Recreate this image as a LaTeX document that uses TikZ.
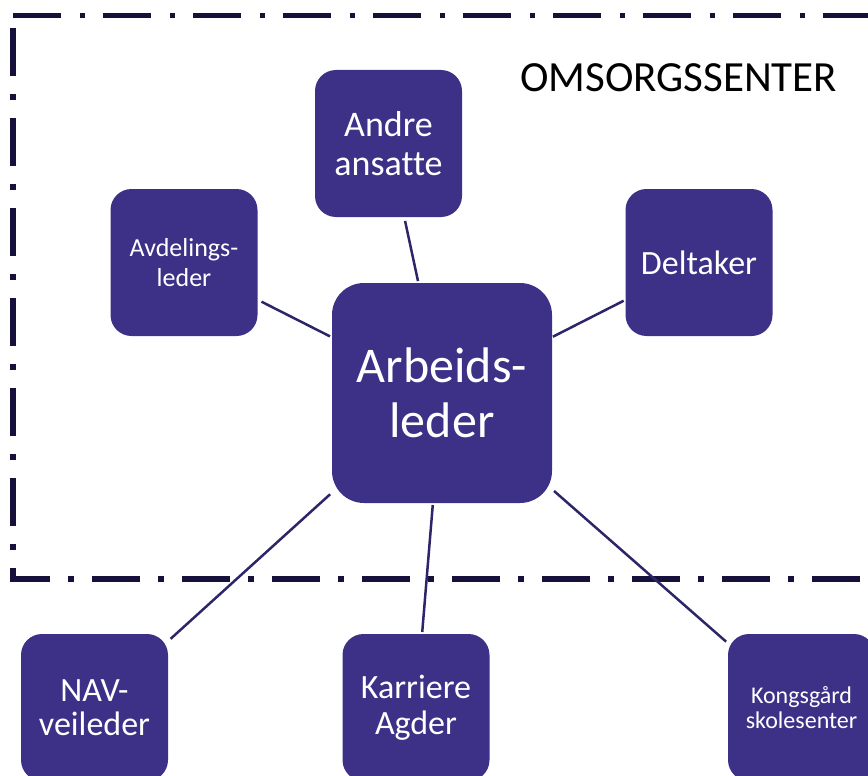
\documentclass[tikz,border=0pt]{standalone}
\usepackage{fontspec}
\setmainfont{Carlito}[Ligatures=NoCommon]
\definecolor{boxfill}{HTML}{3C3087}
\definecolor{linec}{HTML}{2C2669}
\definecolor{framec}{HTML}{15113A}
\begin{document}
\begin{tikzpicture}[x=1pt,y=-1pt,
  box/.style={fill=boxfill, rounded corners=21pt, text=white, align=center,
    inner sep=0pt, outer sep=0pt, minimum width=147pt, minimum height=147pt},
  bigbox/.style={box, rounded corners=32pt, minimum width=220pt, minimum height=220pt},
  conn/.style={draw=linec, line width=2.5pt},
  frame/.style={draw=framec, line width=5.5pt, line join=miter, line cap=butt,
    dash pattern=on 48pt off 18.5pt on 5.5pt off 18pt}]
\useasboundingbox (0,0) rectangle (868,776);
\clip (0,0) rectangle (868,776);
% frame
\draw[frame] (13,15.5) -- (960,15.5);
\draw[frame] (950,579) -- (13,579) -- (13,15.5);
\node[anchor=base west, inner sep=0pt, font=\fontsize{43}{50}\selectfont] (title) at (520,92) {OMSORGSSENTER};
% boxes
\node[bigbox, font=\fontsize{50}{55}\selectfont] (arb) at (442,393) {Arbeids-\\leder};
\node[box, font=\fontsize{36}{39}\selectfont] (andre) at (388.5,143.5) {Andre\\ansatte};
\node[box, font=\fontsize{26}{30}\selectfont] (avd) at (184,262.5) {Avdelings-\\leder};
\node[box, font=\fontsize{34}{40}\selectfont] (delt) at (699,262.5) {Deltaker};
\node[box, font=\fontsize{34}{34}\selectfont] (nav) at (94.5,707.5) {NAV-\\veileder};
\node[box, font=\fontsize{34}{36}\selectfont] (karr) at (416,707.5) {Karriere\\Agder};
\node[box, font=\fontsize{24}{25}\selectfont] (kong) at (801.5,707.5) {Kongsgård\\skolesenter};
% connectors
\draw[conn, shorten <=2pt, shorten >=4pt] (arb) -- (andre);
\draw[conn, shorten <=2.2pt, shorten >=4.5pt] (arb) -- (avd);
\draw[conn, shorten <=1pt, shorten >=2pt] (arb) -- (delt);
\draw[conn, shorten <=2.5pt, shorten >=3.5pt] (arb) -- (nav);
\draw[conn, shorten <=2pt, shorten >=2pt] (arb) -- (karr);
\draw[conn, shorten <=2.7pt, shorten >=2.5pt] (arb) -- (kong);
\end{tikzpicture}
\end{document}
